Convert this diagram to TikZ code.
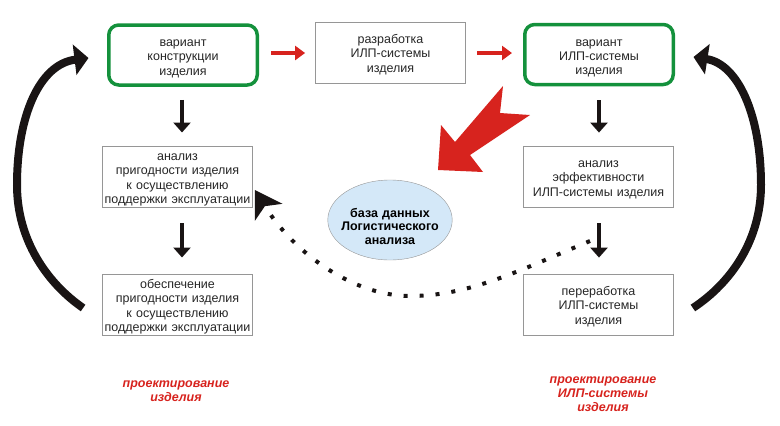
\documentclass[tikz,border=0pt]{standalone}
\usepackage{fontspec}
\setmainfont{Liberation Sans}
\usetikzlibrary{arrows.meta,shapes.geometric}
\definecolor{ramka}{RGB}{150,150,150}
\definecolor{zel}{RGB}{20,145,60}
\definecolor{krasn}{RGB}{215,35,30}
\definecolor{goluboj}{RGB}{212,232,248}
\definecolor{chern}{RGB}{25,20,20}
\begin{document}
\begin{tikzpicture}[x=1pt,y=-1pt,
    blok/.style={draw=ramka,line width=0.8pt,minimum width=150pt,minimum height=61pt,text width=148pt,align=center,inner sep=0pt,text=black!85,font=\fontsize{12.5}{14.3}\selectfont,execute at begin node=\rule{0pt}{14pt},execute at end node=\strut},
    variant/.style={blok,draw=zel,line width=3.5pt,rounded corners=10pt,minimum width=148.5pt,minimum height=60pt,text width=140pt,execute at begin node=\rule{0pt}{16pt}},
    strelka/.style={draw=chern,line width=4pt,-{Triangle[length=10pt,width=17pt]}},
    krstrelka/.style={draw=krasn,line width=4pt,-{Triangle[length=10pt,width=14pt]}},
    duga/.style={draw=chern,line width=8pt,-{Triangle[length=14pt,width=30pt]}},
    podpis/.style={text=krasn,font=\fontsize{12.5}{14}\selectfont\bfseries\itshape,align=center}]
    \useasboundingbox (0,0) rectangle (780,426);
    % verkhnij rjad
    \node[variant] (var1) at (183,55) {вариант\\конструкции\\изделия};
    \node[blok] (razr) at (390.5,53) {разработка\\ИЛП-системы\\изделия};
    \node[variant] (var2) at (599,54.5) {вариант\\ИЛП-системы\\изделия};
    % levyj i pravyj stolbcy
    \node[blok] (anal1) at (177.5,177) {анализ\\пригодности изделия\\к осуществлению\\поддержки эксплуатации};
    \node[blok] (obesp) at (177.5,305) {обеспечение\\пригодности изделия\\к осуществлению\\поддержки эксплуатации};
    \node[blok] (anal2) at (598.5,177) {анализ\\эффективности\\ИЛП-системы изделия};
    \node[blok] (pererab) at (598.5,305) {переработка\\ИЛП-системы\\изделия};
    \node[ellipse,draw=ramka,fill=goluboj,minimum width=124pt,minimum height=80pt,inner xsep=-11pt,inner ysep=0pt,text width=110pt,align=center,font=\fontsize{12.5}{13.5}\selectfont\bfseries,execute at begin node=\rule{0pt}{22pt}] (baza) at (390,220) {база данных\\Логистического\\анализа};
    \node[podpis] (proekt1) at (176,391) {проектирование\\изделия};
    \node[podpis] (proekt2) at (603,394) {проектирование\\ИЛП-системы\\изделия};
    % strelki
    \draw[krstrelka,shorten <=12pt,shorten >=10pt] (var1.east |- razr) -- (razr.west);
    \draw[krstrelka,shorten <=11.5pt,shorten >=11pt] (razr.east) -- (var2.west |- razr);
    \draw[strelka,shorten <=13pt,shorten >=13.5pt] ([xshift=-1pt]var1.south) -- ([xshift=-1pt]var1.south |- anal1.north);
    \draw[strelka,shorten <=15.5pt,shorten >=16.5pt] ([xshift=-1pt]var1.south |- anal1.south) -- ([xshift=-1pt]var1.south |- obesp.north);
    \draw[strelka,shorten <=14pt,shorten >=13.5pt] (var2.south) -- (var2.south |- anal2.north);
    \draw[strelka,shorten <=15.5pt,shorten >=16.5pt] (var2.south |- anal2.south) -- (var2.south |- pererab.north);
    \draw[duga] ([xshift=-19pt,yshift=-3pt]obesp.west) .. controls (47,283) and (17,240) .. (17,185) .. controls (17,115) and (40,64) .. ([xshift=-18.5pt,yshift=-3pt]var1.west);
    \draw[duga] ([xshift=19pt,yshift=-3pt]pererab.east) .. controls (731,283) and (761,240) .. (761,185) .. controls (761,115) and (738,64) .. ([xshift=18.5pt,yshift=-2.5pt]var2.east);
    % bolshaja krasnaja strelka
    \fill[krasn] (503,86) -- (500,113) -- (530,115) -- (470,155) -- (483,172) -- (438,170) -- (441,125) -- (455,142) -- cycle;
    % punktir
    \coordinate (tochka) at (590,241);
    \draw[chern,line width=4pt,dash pattern=on 4pt off 12pt,-{Stealth[length=26pt,width=32pt,inset=7pt]}] (tochka) .. controls (520,270) and (470,296) .. (410,296) .. controls (355,296) and (295,255) .. ([xshift=2pt,yshift=-13pt]anal1.east);
\end{tikzpicture}
\end{document}
